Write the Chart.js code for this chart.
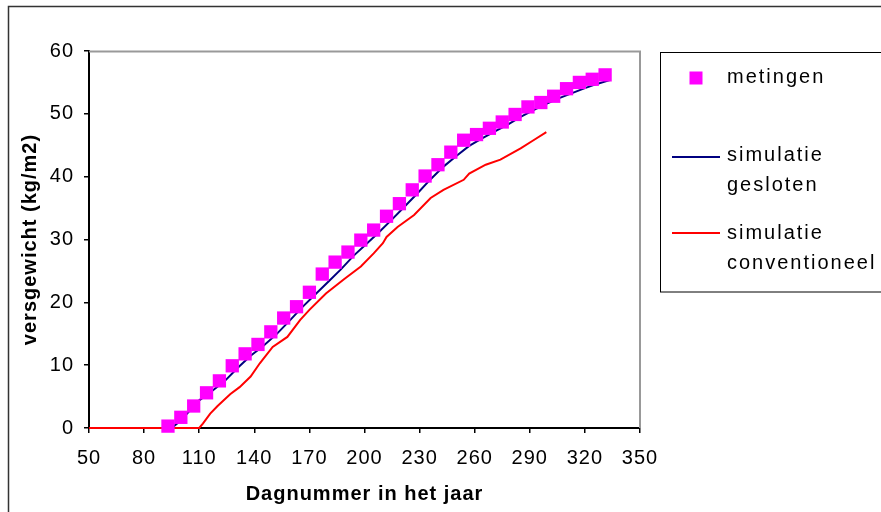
<!DOCTYPE html>
<html>
<head>
<meta charset="utf-8">
<script src="https://cdn.jsdelivr.net/npm/chart.js@4/dist/chart.umd.min.js"></script>
<style>
    body { margin: 0; background: #fff; }
    #chart { display: block; }
</style>
</head>
<body>
<canvas id="chart" width="881" height="512"></canvas>
<script>
// weekly measurements
const metingenDag = [93, 100, 107, 114, 121, 128, 135, 142, 149, 156, 163, 170, 177, 184, 191, 198, 205, 212,
    219, 226, 233, 240, 247, 254, 261, 268, 275, 282, 289, 296, 303, 310, 317, 324, 331];
const metingenGewicht = [0.3, 1.7, 3.5, 5.6, 7.5, 9.9, 11.8, 13.3, 15.3, 17.5, 19.3, 21.6, 24.5, 26.4, 28.0, 29.9, 31.5, 33.7,
    35.7, 37.9, 40.1, 41.9, 43.9, 45.8, 46.7, 47.7, 48.7, 49.9, 51.1, 51.8, 52.8, 54.0, 55.0, 55.5, 56.2];

// simulation, closed greenhouse
const geslotenDag = [50, 95, 100, 105, 110, 117, 124, 131, 138, 145, 152, 159, 166, 173, 180, 187, 194, 201, 208,
    215, 222, 229, 236, 243, 250, 257, 264, 271, 278, 285, 292, 299, 306, 313, 320, 327, 334];
const geslotenGewicht = [0, 0, 1.2, 2.8, 4.4, 5.9, 7.5, 9.6, 11.5, 13.1, 14.9, 17.0, 19.2, 21.2, 23.2, 25.2, 27.4, 29.3, 31.2,
    33.2, 35.3, 37.4, 39.6, 41.6, 43.3, 44.9, 46.1, 47.2, 48.3, 49.5, 50.6, 51.6, 52.5, 53.3, 54.1, 54.8, 55.4];

// simulation, conventional greenhouse
const conventioneelDag = [50, 110, 112, 116, 120, 127, 132, 138, 143, 150, 158, 165, 170, 179, 189, 198, 205, 210,
    212, 218, 227, 236, 243, 254, 257, 266, 274, 285, 292, 299];
const conventioneelGewicht = [0, 0, 0.7, 2.3, 3.5, 5.4, 6.5, 8.2, 10.3, 12.9, 14.5, 17.2, 18.8, 21.4, 23.7, 25.7, 27.8, 29.4,
    30.4, 32.0, 33.9, 36.6, 37.9, 39.5, 40.5, 41.9, 42.7, 44.5, 45.8, 47.1];

const xTicks = [50, 80, 110, 140, 170, 200, 230, 260, 290, 320, 350];
const yTicks = [0, 10, 20, 30, 40, 50, 60];

const legendItems = [
    { type: 'square', color: '#FF00FF', lines: ['metingen'] },
    { type: 'line', color: '#000080', lines: ['simulatie', 'gesloten'] },
    { type: 'line', color: '#FF0000', lines: ['simulatie', 'conventioneel'] }
];

const FONT = "'Liberation Sans', Arial, sans-serif";

function toPoints(xs, ys) {
    return xs.map((x, i) => ({ x: x, y: ys[i] }));
}

// outer frame, plot border and the side legend
const framePlugin = {
    id: 'frame',
    beforeDraw(chart) {
        chart.ctx.letterSpacing = '1px';
    },
    beforeDatasetsDraw(chart) {
        const ctx = chart.ctx;
        const a = chart.chartArea;
        ctx.save();
        ctx.strokeStyle = '#999';
        ctx.lineWidth = 2;
        ctx.beginPath();
        ctx.moveTo(a.left, a.top + 0.5);
        ctx.lineTo(a.right, a.top + 0.5);
        ctx.lineTo(a.right, a.bottom);
        ctx.stroke();
        ctx.restore();
    },
    afterDraw(chart) {
        const ctx = chart.ctx;
        ctx.save();
        ctx.strokeStyle = '#333';
        ctx.lineWidth = 1.5;
        ctx.strokeRect(8.5, 6.5, 1000, 1000);

        ctx.strokeStyle = '#000';
        ctx.lineWidth = 1;
        ctx.strokeRect(660.5, 52.5, 400, 239.5);

        ctx.font = '20px ' + FONT;
        ctx.letterSpacing = '2px';
        ctx.fillStyle = '#000';
        ctx.textBaseline = 'middle';
        ctx.textAlign = 'left';
        const textY = [[77.5], [155, 185], [233, 263]];
        const markY = [78, 157, 233];
        legendItems.forEach((item, i) => {
            if (item.type === 'square') {
                ctx.fillStyle = item.color;
                ctx.fillRect(689.5, markY[i] - 6.5, 13, 13);
            } else {
                ctx.strokeStyle = item.color;
                ctx.lineWidth = 2;
                ctx.beginPath();
                ctx.moveTo(672, markY[i]);
                ctx.lineTo(720, markY[i]);
                ctx.stroke();
            }
            ctx.fillStyle = '#000';
            item.lines.forEach((t, j) => ctx.fillText(t, 727, textY[i][j]));
        });
        ctx.restore();
    }
};

const ctx = document.getElementById('chart').getContext('2d');
new Chart(ctx, {
    type: 'scatter',
    data: {
        datasets: [
            {
                label: 'metingen',
                data: toPoints(metingenDag, metingenGewicht),
                pointStyle: 'rect',
                pointRadius: 9.4,
                pointBorderWidth: 0,
                pointBackgroundColor: '#FF00FF',
                pointBorderColor: '#FF00FF',
                showLine: false,
                clip: false
            },
            {
                label: 'simulatie conventioneel',
                data: toPoints(conventioneelDag, conventioneelGewicht),
                showLine: true,
                borderColor: '#FF0000',
                borderWidth: 2,
                pointRadius: 0,
                tension: 0,
                clip: false
            },
            {
                label: 'simulatie gesloten',
                data: toPoints(geslotenDag, geslotenGewicht),
                showLine: true,
                borderColor: '#000080',
                borderWidth: 2,
                pointRadius: 0,
                tension: 0,
                clip: false
            }
        ]
    },
    options: {
        responsive: false,
        devicePixelRatio: 1,
        animation: false,
        layout: { padding: { left: 0, right: 241, top: 51, bottom: 0 } },
        plugins: {
            legend: { display: false },
            tooltip: { enabled: false }
        },
        scales: {
            x: {
                type: 'linear',
                min: xTicks[0],
                max: xTicks[xTicks.length - 1],
                afterBuildTicks: s => { s.ticks = xTicks.map(v => ({ value: v })); },
                afterFit: s => { s.height = 84; },
                ticks: { color: '#000', font: { family: FONT, size: 20 }, padding: 13, maxRotation: 0 },
                grid: { drawOnChartArea: false, color: '#000', tickLength: 5, lineWidth: 1.5 },
                border: { color: '#000', width: 2 },
                title: {
                    display: true,
                    text: 'Dagnummer in het jaar',
                    color: '#000',
                    font: { family: FONT, size: 20, weight: 'bold' },
                    padding: { top: 0, bottom: 6 }
                }
            },
            y: {
                type: 'linear',
                min: yTicks[0],
                max: yTicks[yTicks.length - 1],
                afterBuildTicks: s => { s.ticks = yTicks.map(v => ({ value: v })); },
                afterFit: s => { s.width = 89; },
                ticks: { color: '#000', font: { family: FONT, size: 20 }, padding: 10 },
                grid: { drawOnChartArea: false, color: '#000', tickLength: 5, lineWidth: 1.5 },
                border: { color: '#000', width: 2 },
                title: {
                    display: true,
                    text: 'versgewicht (kg/m2)',
                    color: '#000',
                    font: { family: FONT, size: 20, weight: 'bold' },
                    padding: { top: 18, bottom: 0 }
                }
            }
        }
    },
    plugins: [framePlugin]
});
</script>
</body>
</html>
